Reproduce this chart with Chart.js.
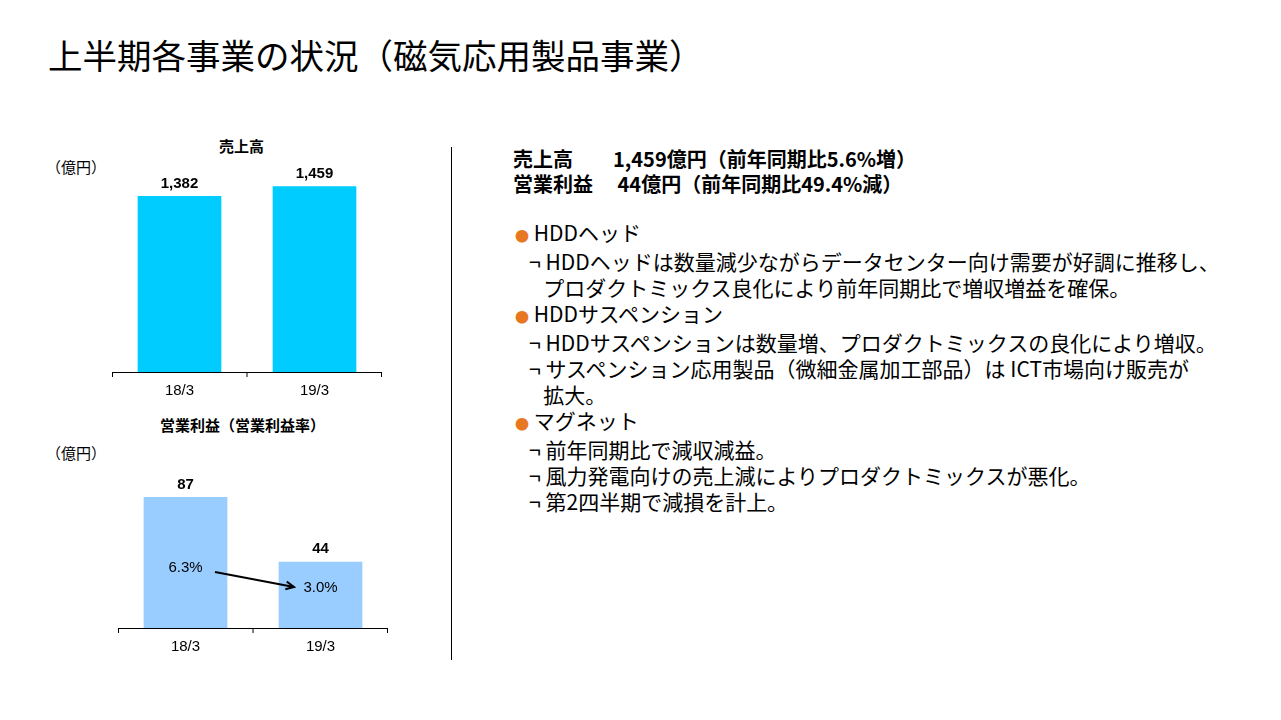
<!DOCTYPE html>
<html><head><meta charset="utf-8">
<script src="https://cdn.jsdelivr.net/npm/chart.js@4"></script>
<style>
body{margin:0;width:1281px;height:720px;background:#fff;font-family:"Noto Sans CJK JP",sans-serif;position:relative;overflow:hidden;color:#000}
.a{position:absolute;white-space:nowrap;line-height:1}
canvas{position:absolute}
.b{color:#e87722;font-size:14px}
</style></head><body>
<div class="a" style="left:48px;top:37px;font-size:34.5px">上半期各事業の状況（磁気応用製品事業）</div>
<div class="a" style="left:219px;top:138px;font-size:15px;font-weight:bold">売上高</div>
<div class="a" style="left:46px;top:159px;font-size:15px">（億円）</div>
<div class="a" style="left:160px;top:417px;font-size:15px;font-weight:bold">営業利益（営業利益率）</div>
<div class="a" style="left:46px;top:445px;font-size:15px">（億円）</div>
<div style="position:absolute;left:451px;top:147px;width:1px;height:513px;background:#000"></div>
<div class="a" style="left:513px;top:146px;font-size:20px;font-weight:bold;line-height:25px">売上高　　1,459億円（前年同期比5.6%増）<br>営業利益　 44億円（前年同期比49.4%減）</div>
<div class="a" style="left:515px;top:219px;font-size:21px;line-height:26px">
<span class="b">●</span> HDDヘッド<br>
&nbsp;&nbsp;&nbsp;¬ HDDヘッドは数量減少ながらデータセンター向け需要が好調に推移し、<br>
&nbsp;&nbsp;&nbsp;&nbsp;&nbsp;&nbsp;プロダクトミックス良化により前年同期比で増収増益を確保。<br>
<span class="b">●</span> HDDサスペンション<br>
&nbsp;&nbsp;&nbsp;¬ HDDサスペンションは数量増、プロダクトミックスの良化により増収。<br>
&nbsp;&nbsp;&nbsp;¬ サスペンション応用製品（微細金属加工部品）は ICT市場向け販売が<br>
&nbsp;&nbsp;&nbsp;&nbsp;&nbsp;&nbsp;拡大。<br>
<span class="b">●</span> マグネット<br>
&nbsp;&nbsp;&nbsp;¬ 前年同期比で減収減益。<br>
&nbsp;&nbsp;&nbsp;¬ 風力発電向けの売上減によりプロダクトミックスが悪化。<br>
&nbsp;&nbsp;&nbsp;¬ 第2四半期で減損を計上。</div>
<canvas id="c1" style="left:112px;top:150px;width:270px;height:260px"></canvas>
<canvas id="c2" style="left:118px;top:470px;width:270px;height:196px"></canvas>
<script>
const categories = ["18/3", "19/3"];
const salesValues = [1382, 1459];
const profitValues = [87, 44];
const marginLabels = ["6.3%", "3.0%"];

const font = "Arial, 'Liberation Sans', sans-serif";
const deco = {
  id: "deco",
  afterDatasetsDraw(chart, args, opts) {
    const ctx = chart.ctx, a = chart.chartArea, meta = chart.getDatasetMeta(0);
    ctx.save();
    ctx.strokeStyle = "#000"; ctx.lineWidth = 1;
    ctx.beginPath();
    ctx.moveTo(a.left, a.bottom + 0.5); ctx.lineTo(a.right, a.bottom + 0.5);
    [a.left + 0.5, (a.left + a.right) / 2, a.right - 0.5].forEach(x => { ctx.moveTo(x, a.bottom); ctx.lineTo(x, a.bottom + 5); });
    ctx.stroke();
    ctx.fillStyle = "#000"; ctx.font = "bold 15px " + font; ctx.textAlign = "center"; ctx.textBaseline = "bottom";
    meta.data.forEach((bar, i) => ctx.fillText(chart.data.datasets[0].data[i].toLocaleString("en-US"), bar.x, bar.y - 5));
    if (opts.margins) {
      const b0 = meta.data[0], b1 = meta.data[1];
      ctx.font = "15px " + font; ctx.textBaseline = "middle";
      ctx.fillText(opts.margins[0], b0.x, 568 - 470);
      ctx.fillText(opts.margins[1], b1.x, 588 - 470);
      const x0 = 215 - 118, y0 = 572 - 470, x1 = 294 - 118, y1 = 587 - 470;
      ctx.lineWidth = 2; ctx.beginPath(); ctx.moveTo(x0, y0); ctx.lineTo(x1, y1); ctx.stroke();
      const ang = Math.atan2(y1 - y0, x1 - x0);
      ctx.beginPath();
      ctx.moveTo(x1 - 9 * Math.cos(ang - 0.45), y1 - 9 * Math.sin(ang - 0.45));
      ctx.lineTo(x1, y1);
      ctx.lineTo(x1 - 9 * Math.cos(ang + 0.45), y1 - 9 * Math.sin(ang + 0.45));
      ctx.stroke();
    }
    ctx.restore();
  }
};

function makeChart(id, values, color, max, margins) {
  return new Chart(document.getElementById(id), {
    type: "bar",
    data: { labels: categories, datasets: [{ data: values, backgroundColor: color, barPercentage: 0.62, categoryPercentage: 1 }] },
    options: {
      responsive: false, animation: false,
      layout: { padding: 0 },
      plugins: { legend: { display: false }, tooltip: { enabled: false }, deco: { margins } },
      scales: {
        x: { grid: { display: false, drawTicks: false }, border: { display: false }, ticks: { color: "#000", font: { size: 15, family: font }, padding: 10 } },
        y: { display: false, min: 0, max: max }
      }
    },
    plugins: [deco]
  });
}
makeChart("c1", salesValues, "#00ccff", 1743, null);
makeChart("c2", profitValues, "#99ccff", 105, marginLabels);
</script>
</body></html>
